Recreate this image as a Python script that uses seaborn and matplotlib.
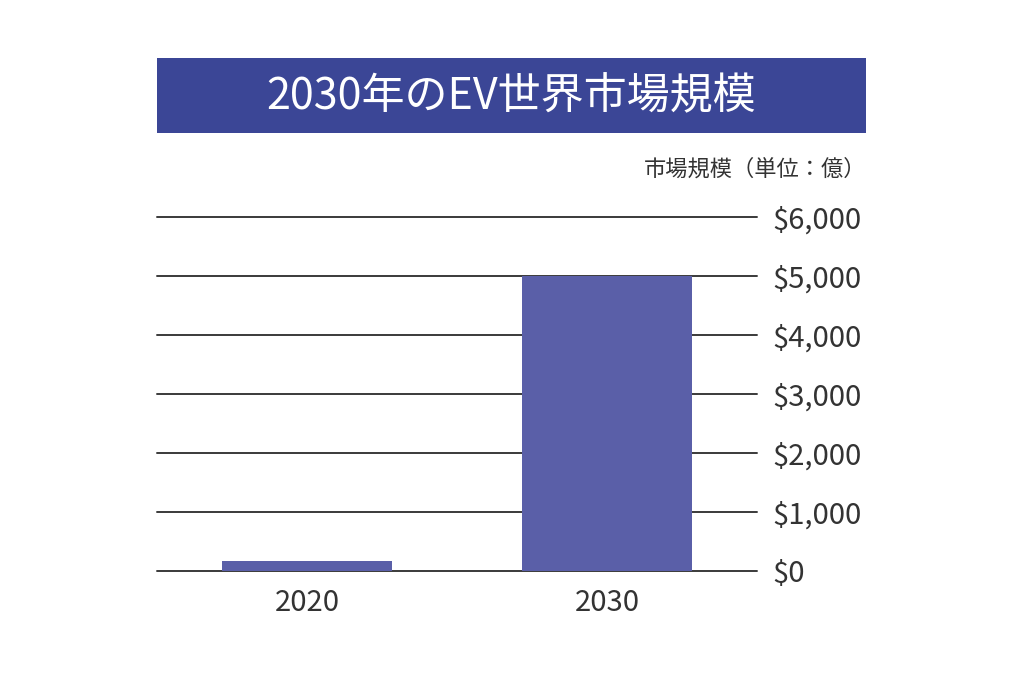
import matplotlib
matplotlib.use("Agg")
import matplotlib.pyplot as plt
from matplotlib.patches import Rectangle
from matplotlib.ticker import FuncFormatter
import seaborn as sns
import pandas as pd

years = ["2020", "2030"]
market_size = [170, 5000]
yticks = [0, 1000, 2000, 3000, 4000, 5000, 6000]
title = "2030年のEV世界市場規模"
unit_label = "市場規模（単位：億）"

sns.set_theme(style="white")
plt.rcParams['font.family'] = ['Noto Sans CJK JP', 'DejaVu Sans']

df = pd.DataFrame({"year": years, "size": market_size})

fig = plt.figure(figsize=(10.24, 6.83), dpi=100, facecolor="white")
ax = fig.add_axes([0.1533, 0.164, 0.586, 0.518])

sns.barplot(data=df, x="year", y="size", color="#5a5fa8", saturation=1,
            width=0.567, ax=ax, zorder=3, linewidth=0)

ax.set_ylim(0, 6000)
ax.set_xlim(-0.5, 1.5)
ax.set_yticks(yticks)
ax.yaxis.tick_right()
ax.yaxis.set_major_formatter(FuncFormatter(lambda v, p: f"${int(v):,}"))
ax.grid(axis="y", color="#3a3a3a", linewidth=1.4, zorder=1)
for gl in ax.get_ygridlines():
    gl.set_clip_on(False)
ax.tick_params(axis="y", length=0, pad=11, labelsize=21, labelcolor="#333333")
ax.tick_params(axis="x", length=0, pad=12, labelsize=21, labelcolor="#333333")
for s in ax.spines.values():
    s.set_visible(False)
ax.set_xlabel("")
ax.set_ylabel("")

fig.patches.append(Rectangle((0.1533, 0.8053), 0.6924, 0.1098,
                             transform=fig.transFigure, facecolor="#3b4696",
                             edgecolor="none"))
fig.text(0.4995, 0.858, title, color="white", fontsize=31, ha="center",
         va="center", fontweight="normal")
fig.text(0.846, 0.752, unit_label, color="#333333", fontsize=16, ha="right",
         va="center")

fig.savefig("out.png", dpi=100, facecolor="white")
